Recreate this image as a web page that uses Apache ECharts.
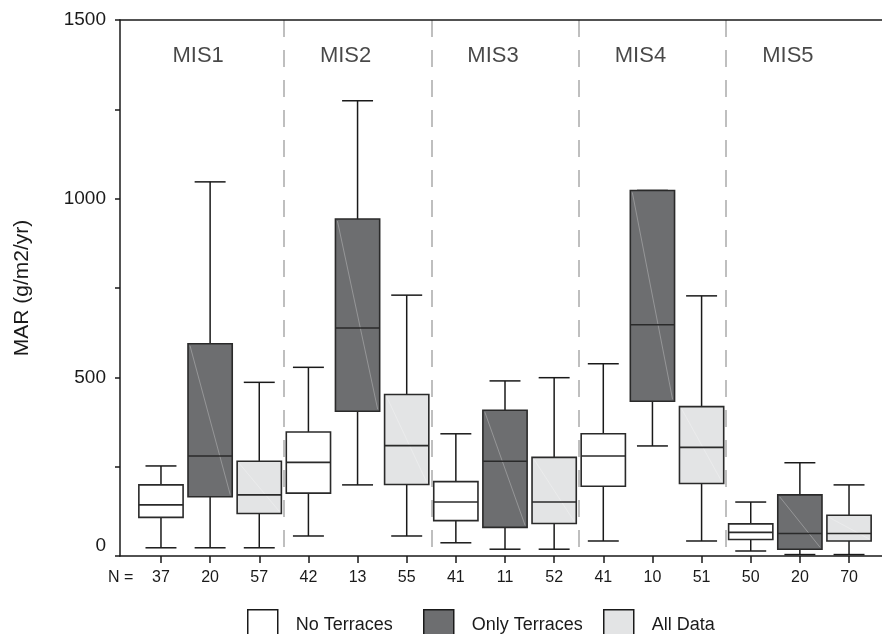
<!DOCTYPE html>
<html>
<head>
<meta charset="utf-8">
<title>MAR by MIS</title>
<script src="https://cdn.jsdelivr.net/npm/echarts@6/dist/echarts.min.js"></script>
<style>
  html, body { margin: 0; padding: 0; background: #fff; }
  #main { width: 882px; height: 634px; }
</style>
</head>
<body>
<div id="main"></div>
<script>
// 数据
let groups = ["MIS1", "MIS2", "MIS3", "MIS4", "MIS5"]
let nLabels = ["37", "20", "57", "42", "13", "55", "41", "11", "52", "41", "10", "51", "50", "20", "70"]
let seriesNames = ["No Terraces", "Only Terraces", "All Data"]
// [min, Q1, median, Q3, max] per MIS
let noTerraces = [
  [23, 108, 143, 199, 252],
  [56, 176, 262, 347, 528],
  [37, 99, 151, 208, 342],
  [42, 195, 280, 342, 538],
  [14, 46, 66, 90, 151]
]
let onlyTerraces = [
  [23, 166, 280, 594, 1047],
  [199, 405, 638, 943, 1274],
  [19, 80, 265, 408, 490],
  [308, 433, 647, 1023, 1023],
  [4, 19, 63, 171, 261]
]
let allData = [
  [23, 119, 171, 265, 486],
  [56, 200, 309, 452, 730],
  [19, 91, 151, 276, 499],
  [42, 203, 304, 418, 728],
  [4, 42, 63, 114, 199]
]
let yTicks = [0, 500, 1000, 1500]

let fills = ["#ffffff", "#6d6e70", "#e3e4e5"]
let ink = "#1a1a1a"
let font = "'Liberation Sans', Arial, sans-serif"

function renderBox(params, api) {
  let x = api.value(0)
  let band = api.size([1, 0])[0]
  let bw = band * 0.9, cw = band * 0.63
  let pMin = api.coord([x, api.value(1)])
  let pQ1 = api.coord([x, api.value(2)])
  let pMed = api.coord([x, api.value(3)])
  let pQ3 = api.coord([x, api.value(4)])
  let pMax = api.coord([x, api.value(5)])
  let cx = pMed[0]
  let fill = fills[api.value(6)]
  let line = { stroke: ink, lineWidth: 1.5 }
  let children = [
    { type: "line", shape: { x1: cx, y1: pMax[1], x2: cx, y2: pQ3[1] }, style: line },
    { type: "line", shape: { x1: cx, y1: pQ1[1], x2: cx, y2: pMin[1] }, style: line },
    { type: "line", shape: { x1: cx - cw / 2, y1: pMax[1], x2: cx + cw / 2, y2: pMax[1] }, style: line },
    { type: "line", shape: { x1: cx - cw / 2, y1: pMin[1], x2: cx + cw / 2, y2: pMin[1] }, style: line },
    { type: "rect", shape: { x: cx - bw / 2, y: pQ3[1], width: bw, height: pQ1[1] - pQ3[1] },
      style: { fill: fill, stroke: "#2a2a2a", lineWidth: 1.6 } }
  ]
  if (api.value(6) > 0) {
    // 扫描图里的浅色对角线
    children.push({ type: "line",
      shape: { x1: cx - bw / 2 + 2, y1: pQ3[1] + 2, x2: cx + bw / 2 - 2, y2: pQ1[1] - 2 },
      style: { stroke: "rgba(255,255,255,0.35)", lineWidth: 0.8 } })
  }
  children.push({ type: "line", shape: { x1: cx - bw / 2, y1: pMed[1], x2: cx + bw / 2, y2: pMed[1] },
    style: { stroke: "#2a2a2a", lineWidth: 1.6 } })
  return { type: "group", children: children }
}

function boxSeries(idx, rows) {
  return {
    name: seriesNames[idx],
    type: "custom",
    xAxisIndex: 2,
    yAxisIndex: 1,
    itemStyle: { color: fills[idx], borderColor: ink, borderWidth: 1.5 },
    renderItem: renderBox,
    encode: { x: 0, y: [1, 2, 3, 4, 5] },
    data: rows.map((r, g) => [3 * g + idx].concat(r, [idx])),
    z: 3
  }
}

function legendAt(left, idx) {
  return {
    left: left, top: 609, padding: 0,
    itemWidth: 30, itemHeight: 30,
    selectedMode: false,
    textStyle: { fontSize: 18, color: ink, fontFamily: font, padding: [0, 0, 0, 13] },
    data: [{ name: seriesNames[idx], icon: "rect",
      itemStyle: { color: fills[idx], borderColor: ink, borderWidth: 1.5 } }]
  }
}

var myChart = echarts.init(document.getElementById("main"))
var option = {
  animation: false,
  textStyle: { fontFamily: font },
  grid: [
    { left: 120, right: 0, top: 20, bottom: 78 },
    { left: 136.4, right: 8.4, top: 20, bottom: 78 }
  ],
  legend: [legendAt(247, 0), legendAt(423, 1), legendAt(603, 2)],
  xAxis: [
    { gridIndex: 0, type: "value", min: 0, max: 1, position: "bottom",
      axisLine: { show: true, lineStyle: { color: ink, width: 1.5 } },
      axisTick: { show: false }, axisLabel: { show: false }, splitLine: { show: false } },
    { gridIndex: 0, type: "value", min: 0, max: 1, position: "top",
      axisLine: { show: true, lineStyle: { color: ink, width: 1.5 } },
      axisTick: { show: false }, axisLabel: { show: false }, splitLine: { show: false } },
    { gridIndex: 1, type: "category", data: nLabels, position: "bottom",
      name: "N =", nameLocation: "start", nameGap: 3,
      nameTextStyle: { fontSize: 16, color: ink, fontFamily: font, verticalAlign: "top", padding: [14, 0, 0, 0] },
      axisLine: { show: false },
      axisTick: { show: true, alignWithLabel: true, length: 7, lineStyle: { color: ink, width: 1.5 } },
      axisLabel: { fontSize: 16, color: ink, fontFamily: font, margin: 14, interval: 0 },
      splitLine: { show: false } },
    // 分组虚线
    { gridIndex: 1, type: "value", min: 0, max: nLabels.length, interval: 3, position: "top",
      axisLine: { show: false }, axisTick: { show: false }, axisLabel: { show: false },
      splitLine: { show: true, showMinLine: false, showMaxLine: false,
        lineStyle: { color: "#aaaaaa", width: 1.5, type: [17, 13] } } }
  ],
  yAxis: [
    { gridIndex: 0, type: "value", min: 0, max: 1500, interval: 250,
      name: "MAR (g/m2/yr)", nameLocation: "middle", nameGap: 87,
      nameTextStyle: { fontSize: 21, color: ink, fontFamily: font },
      axisLine: { show: true, lineStyle: { color: ink, width: 1.5 } },
      axisTick: { show: true, length: 5, lineStyle: { color: ink, width: 1.5 } },
      axisLabel: { fontSize: 19, color: ink, fontFamily: font, margin: 14,
        formatter: v => v === 0 ? "{z|0}" : (yTicks.indexOf(v) >= 0 ? String(v) : ""),
        rich: { z: { fontSize: 19, color: ink, fontFamily: font, padding: [0, 0, 20, 0] } } },
      splitLine: { show: false } },
    { gridIndex: 1, type: "value", min: 0, max: 1500, show: false }
  ],
  series: [
    boxSeries(0, noTerraces),
    boxSeries(1, onlyTerraces),
    boxSeries(2, allData),
    {
      type: "scatter", xAxisIndex: 2, yAxisIndex: 1,
      symbolSize: 0, silent: true,
      data: groups.map((g, i) => [3 * i + 1, 1400, g]),
      label: { show: true, position: "inside", offset: [-12, 0], formatter: p => p.value[2],
        fontSize: 22, color: ink, fontFamily: font }
    }
  ]
}
myChart.setOption(option)
</script>
</body>
</html>
